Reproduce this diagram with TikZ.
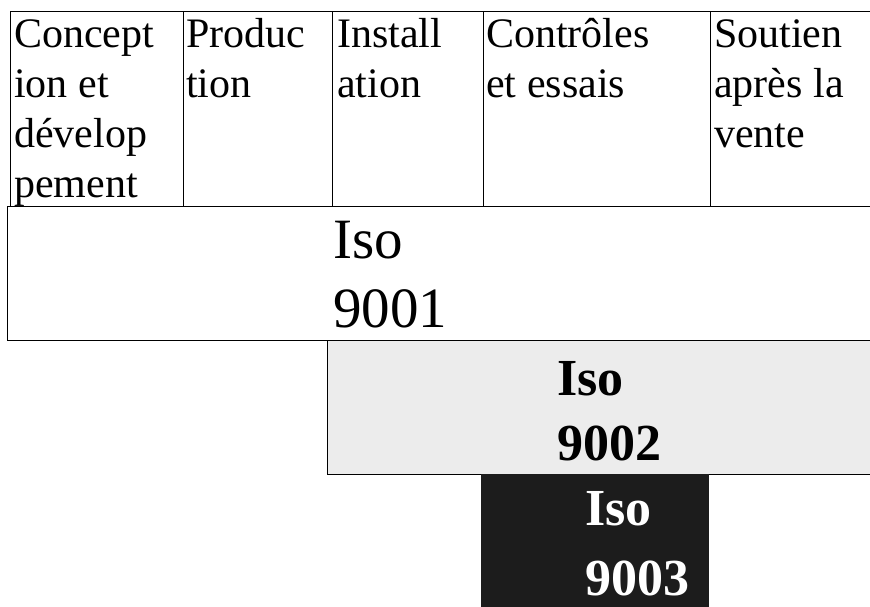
\documentclass[tikz,border=0pt]{standalone}
\usepackage{fontspec}
\setmainfont{Liberation Serif}
\usepackage{xcolor}
\definecolor{isodark}{RGB}{28,28,28}
\definecolor{isolight}{RGB}{236,236,236}
\tikzset{
  cell/.style={draw,line width=1.3pt,inner sep=0pt,anchor=north west},
  phase/.style={anchor=base west,inner sep=0pt,align=left,font=\fontsize{42}{50}\selectfont},
  isotxt/.style={anchor=base west,inner sep=0pt,align=left}
}

\begin{document}
\begin{tikzpicture}[x=1pt,y=-1pt]
\path[use as bounding box] (0,0) rectangle (870,606);
\fill[white] (0,0) rectangle (870,606);
\clip (0,0) rectangle (870,606);
% ---- PHASES ----
\node[cell,minimum width=173pt,minimum height=195pt] (conc) at (10,11) {};
\node[cell,minimum width=149pt,minimum height=195pt] (prod) at (183,11) {};
\node[cell,minimum width=151pt,minimum height=195pt] (inst) at (332,11) {};
\node[cell,minimum width=227pt,minimum height=195pt] (ctrl) at (483,11) {};
\node[cell,minimum width=200pt,minimum height=195pt] (sout) at (710,11) {};
% text nodes placed by the baseline of their last line
\node[phase] (tconc) at (14,197) {Concept\\ion et\\dévelop\\pement};
\node[phase] (tprod) at (186,97) {Produc\\tion};
\node[phase] (tinst) at (337,97) {Install\\ation};
\node[phase] (tctrl) at (486,97) {Contrôles\\et essais};
\node[phase] (tsout) at (714,147) {Soutien\\après la\\vente};
% ---- ISO 9001 ----
\node[cell,minimum width=903pt,minimum height=134pt] (b9001) at (7,206) {};
\node[isotxt,font=\fontsize{57}{69}\selectfont] (t9001) at (333,327) {Iso\\9001};
% ---- ISO 9002 ----
\node[cell,fill=isolight,minimum width=583pt,minimum height=134pt] (b9002) at (327,340) {};
\node[isotxt,font=\bfseries\fontsize{52}{65}\selectfont] (t9002) at (557,460) {Iso\\9002};
% ---- ISO 9003 ----
\node[cell,draw=isodark,fill=isodark,minimum width=227pt,minimum height=160pt] (b9003) at (481,474) {};
\node[isotxt,text=white,font=\bfseries\fontsize{52}{70}\selectfont] (t9003) at (585,595) {Iso\\9003};
\end{tikzpicture}
\end{document}
